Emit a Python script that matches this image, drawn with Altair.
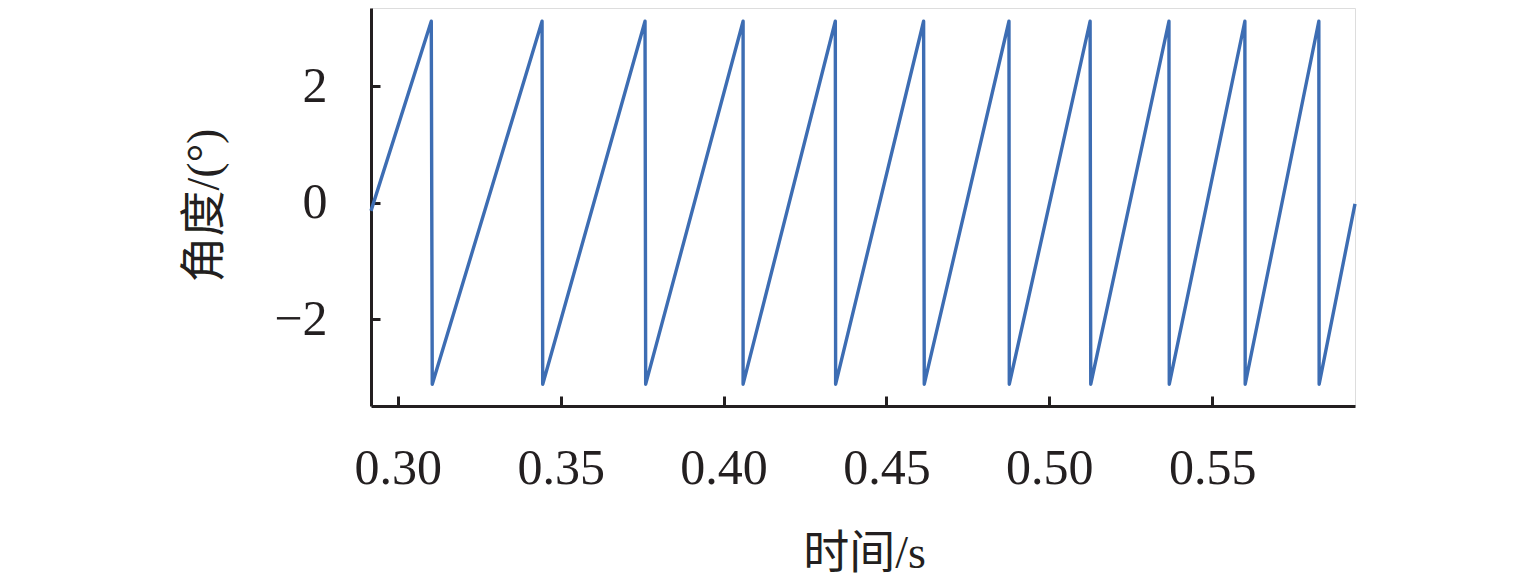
import altair as alt
import pandas as pd

# sawtooth vertices (time in s, angle)
times = [0.2918,
         0.3103, 0.3106,
         0.3443, 0.3445,
         0.3759, 0.3761,
         0.4060, 0.4060,
         0.4343, 0.4344,
         0.4614, 0.4616,
         0.4876, 0.4877,
         0.5125, 0.5127,
         0.5367, 0.5368,
         0.5600, 0.5601,
         0.5827, 0.5828,
         0.5938]
angles = [-0.14,
          3.11, -3.11,
          3.11, -3.11,
          3.11, -3.11,
          3.11, -3.11,
          3.11, -3.11,
          3.11, -3.11,
          3.11, -3.11,
          3.11, -3.11,
          3.11, -3.11,
          3.11, -3.11,
          3.11, -3.11,
          -0.02]
x_ticks = [0.30, 0.35, 0.40, 0.45, 0.50, 0.55]
y_ticks = [-2, 0, 2]

df = pd.DataFrame({"t": times, "a": angles, "i": list(range(len(times)))})

W, H = 984, 398
serif = "Liberation Serif, Noto Sans CJK SC"
axis_col = "#231f20"

xscale = alt.Scale(domain=[0.2918, 0.5938], nice=False, zero=False)
yscale = alt.Scale(domain=[-3.484, 3.337], nice=False, zero=False)

main = alt.Chart(df).mark_line(color="#3d6db3", strokeWidth=3.4, strokeJoin="round").encode(
    x=alt.X("t:Q", scale=xscale,
            axis=alt.Axis(values=x_ticks, format=".2f", ticks=False, tickSize=0, grid=False,
                          domain=True, domainColor=axis_col, domainWidth=3,
                          labelFont=serif, labelFontSize=50, labelColor=axis_col,
                          labelPadding=37, labelFlush=False,
                          title="时间/s", titleFont=serif, titleFontSize=46,
                          titleFontWeight="normal", titleColor=axis_col,
                          titleX=W / 2 + 1, titleY=147, titleBaseline="middle", titleAlign="center")),
    y=alt.Y("a:Q", scale=yscale,
            axis=alt.Axis(values=y_ticks, format="d", ticks=False, tickSize=0, grid=False,
                          domain=True, domainColor=axis_col, domainWidth=3,
                          labelFont=serif, labelFontSize=50, labelColor=axis_col,
                          labelPadding=44, labelFlush=False,
                          title="角度/(°)", titleFont=serif, titleFontSize=46,
                          titleFontWeight="normal", titleColor=axis_col,
                          titleAngle=270, titleX=-167, titleY=197,
                          titleBaseline="middle", titleAlign="center")),
    order="i:Q",
)

ticks_layer = alt.Chart(df).mark_line(opacity=0).encode(
    x=alt.X("t:Q", scale=xscale,
            axis=alt.Axis(orient="bottom", values=x_ticks, offset=-10, domain=False, labels=False,
                          ticks=True, tickSize=10, tickWidth=3, tickColor=axis_col,
                          grid=False, title=None)),
    y=alt.Y("a:Q", scale=yscale,
            axis=alt.Axis(orient="left", values=y_ticks, offset=-9, domain=False, labels=False,
                          ticks=True, tickSize=9, tickWidth=3, tickColor=axis_col,
                          grid=False, title=None)),
    order="i:Q",
)

chart = alt.layer(main, ticks_layer).resolve_axis(x="independent", y="independent").properties(
    width=W, height=H,
    autosize=alt.AutoSizeParams(type="none"),
    padding={"left": 363, "top": 0, "right": 172, "bottom": 172},
).configure_view(stroke=None).configure(background="white")

chart.save("out.html", embed_options={"renderer": "svg", "actions": False})
